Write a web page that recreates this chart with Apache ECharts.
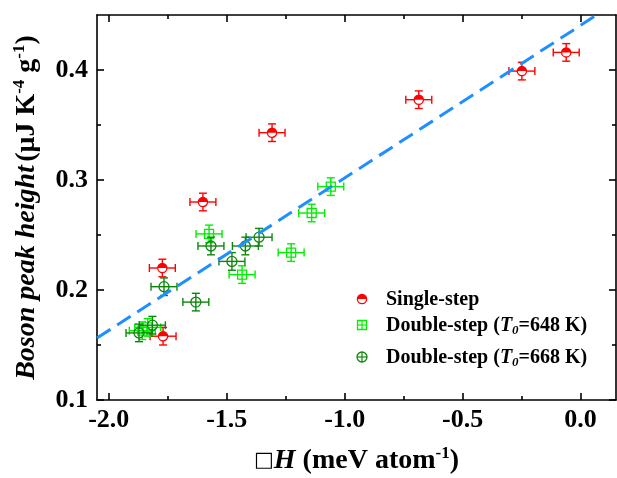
<!DOCTYPE html>
<html>
<head>
<meta charset="utf-8">
<script src="https://cdn.jsdelivr.net/npm/echarts@6/dist/echarts.min.js"></script>
<style>
  html, body { margin: 0; padding: 0; background: #fff; }
  #chart { width: 617px; height: 478px; }
</style>
</head>
<body>
<div id="chart"></div>
<script>
// Single-step annealed samples: enthalpy change vs boson peak height
const singleDH    = [-1.770, -1.773, -1.601, -1.308, -0.686, -0.249, -0.061];
const singleBP    = [0.158, 0.220, 0.280, 0.343, 0.373, 0.399, 0.416];
const singleDHErr = [0.055, 0.055, 0.055, 0.055, 0.055, 0.055, 0.055];
const singleBPErr = [0.008, 0.008, 0.008, 0.008, 0.008, 0.008, 0.008];

// Double-step, T0 = 648 K
const ds648DH    = [-1.858, -1.835, -1.575, -1.435, -1.227, -1.140, -1.059];
const ds648BP    = [0.163, 0.166, 0.251, 0.214, 0.234, 0.270, 0.294];
const ds648DHErr = [0.055, 0.055, 0.055, 0.055, 0.055, 0.055, 0.055];
const ds648BPErr = [0.008, 0.008, 0.008, 0.008, 0.008, 0.008, 0.008];

// Double-step, T0 = 668 K
const ds668DH    = [-1.872, -1.815, -1.766, -1.631, -1.567, -1.478, -1.421, -1.363];
const ds668BP    = [0.161, 0.168, 0.203, 0.189, 0.240, 0.226, 0.240, 0.248];
const ds668DHErr = [0.055, 0.055, 0.055, 0.055, 0.055, 0.055, 0.055, 0.055];
const ds668BPErr = [0.008, 0.008, 0.008, 0.008, 0.008, 0.008, 0.008, 0.008];

// Linear fit drawn as a dashed guide (two end points)
const fitDH = [-2.05, 0.15];
const fitBP = [0.1563, 0.4614];

// Axis ranges and tick positions
const X_MIN = -2.05, X_MAX = 0.15;
const Y_MIN = 0.1, Y_MAX = 0.45;
const xMajorTicks = [-2.0, -1.5, -1.0, -0.5, 0.0];
const xMinorTicks = [-1.75, -1.25, -0.75, -0.25];
const yMajorTicks = [0.1, 0.2, 0.3, 0.4];
const yMinorTicks = [0.15, 0.25, 0.35];

const RED = '#ff0000';
const LIGHT_GREEN = '#00ee00';
const DARK_GREEN = '#0c870c';
const FIT_BLUE = '#1f8fff';
const FONT = '"Liberation Serif", "Times New Roman", serif';

function zipRows(xs, ys, exs, eys) {
  return xs.map((x, i) => [x, ys[i], exs[i], eys[i]]);
}

function markerShapes(kind, cx, cy, color) {
  if (kind === 'half') {
    return [
      { type: 'circle', shape: { cx, cy, r: 4.6 }, style: { fill: '#fff', stroke: color, lineWidth: 1.3 } },
      { type: 'sector', shape: { cx, cy, r0: 0, r: 4.6, startAngle: Math.PI, endAngle: 2 * Math.PI }, style: { fill: color } }
    ];
  }
  if (kind === 'square') {
    return [{ type: 'rect', shape: { x: cx - 4.5, y: cy - 4.5, width: 9, height: 9 }, style: { fill: null, stroke: color, lineWidth: 1.3 } }];
  }
  return [{ type: 'circle', shape: { cx, cy, r: 5 }, style: { fill: null, stroke: color, lineWidth: 1.3 } }];
}

function errorBarRenderer(kind, color) {
  return function (params, api) {
    const x = api.value(0), y = api.value(1), ex = api.value(2), ey = api.value(3);
    const c = api.coord([x, y]);
    const l = api.coord([x - ex, y]);
    const r = api.coord([x + ex, y]);
    const t = api.coord([x, y + ey]);
    const b = api.coord([x, y - ey]);
    const cap = 4;
    const st = { stroke: color, lineWidth: 1.4, fill: null };
    const segs = [
      [l[0], c[1], r[0], c[1]],
      [l[0], c[1] - cap, l[0], c[1] + cap],
      [r[0], c[1] - cap, r[0], c[1] + cap],
      [c[0], t[1], c[0], b[1]],
      [c[0] - cap, t[1], c[0] + cap, t[1]],
      [c[0] - cap, b[1], c[0] + cap, b[1]]
    ];
    const children = segs.map(s => ({
      type: 'line',
      shape: { x1: s[0], y1: s[1], x2: s[2], y2: s[3] },
      style: st
    }));
    return { type: 'group', children: children.concat(markerShapes(kind, c[0], c[1], color)) };
  };
}

const axisLineStyle = { color: '#000', width: 1.6 };
const labelStyle = { color: '#000', fontFamily: FONT, fontWeight: 'bold', fontSize: 26 };

function xAxisDef(position, ticks, len, withLabels, withLine) {
  return {
    type: 'value', gridIndex: 0, position, min: X_MIN, max: X_MAX,
    axisLine: { show: withLine, onZero: false, lineStyle: axisLineStyle },
    axisTick: { show: true, inside: true, length: len, customValues: ticks, lineStyle: axisLineStyle },
    axisLabel: Object.assign({ show: withLabels, customValues: ticks, margin: 7, formatter: v => v.toFixed(1) }, labelStyle),
    splitLine: { show: false }
  };
}
function yAxisDef(position, ticks, len, withLabels, withLine) {
  return {
    type: 'value', gridIndex: 0, position, min: Y_MIN, max: Y_MAX,
    axisLine: { show: withLine, onZero: false, lineStyle: axisLineStyle },
    axisTick: { show: true, inside: true, length: len, customValues: ticks, lineStyle: axisLineStyle },
    axisLabel: Object.assign({ show: withLabels, customValues: ticks, margin: 9, formatter: v => v.toFixed(1) }, labelStyle),
    splitLine: { show: false }
  };
}

const titleRich = {
  box: { fontFamily: '"DejaVu Sans", sans-serif', fontSize: 21, color: '#000' },
  it: { fontFamily: FONT, fontWeight: 'bold', fontStyle: 'italic', fontSize: 28, color: '#000' },
  b: { fontFamily: FONT, fontWeight: 'bold', fontSize: 28, color: '#000' },
  sup: { fontFamily: FONT, fontWeight: 'bold', fontSize: 17, color: '#000', padding: [0, 0, 15, 0] }
};

const xMain = xAxisDef('bottom', xMajorTicks, 7, true, true);
xMain.name = '{box|\u25A1}{it|H}{b| (meV atom}{sup|-1}{b|)}';
xMain.nameLocation = 'middle';
xMain.nameGap = 45;
xMain.nameTextStyle = { color: '#000', rich: titleRich };

const yMain = yAxisDef('left', yMajorTicks, 7, true, true);
yMain.name = '{it|Boson peak height} {b|(\u03BCJ K}{sup|-4}{b| g}{sup|-1}{b|)}';
yMain.nameLocation = 'middle';
yMain.nameRotate = 90;
yMain.nameGap = 54;
yMain.nameTextStyle = { color: '#000', rich: titleRich };

const legendTextRich = {
  b: { fontFamily: FONT, fontWeight: 'bold', fontSize: 20, color: '#000' },
  it: { fontFamily: FONT, fontWeight: 'bold', fontStyle: 'italic', fontSize: 20, color: '#000' },
  sub: { fontFamily: FONT, fontWeight: 'bold', fontStyle: 'italic', fontSize: 13, color: '#000', padding: [9, 0, 0, 0] }
};
const legendRows = [
  { kind: 'half', color: RED, y: 299, text: '{b|Single-step}' },
  { kind: 'square', color: LIGHT_GREEN, y: 325, text: '{b|Double-step (}{it|T}{sub|0}{b|=648 K)}' },
  { kind: 'circle', color: DARK_GREEN, y: 357, text: '{b|Double-step (}{it|T}{sub|0}{b|=668 K)}' }
];
const legendGraphics = [];
legendRows.forEach(row => {
  const icon = markerShapes(row.kind, 362, row.y, row.color);
  if (row.kind !== 'half') {
    icon.push({ type: 'line', shape: { x1: 357, y1: row.y, x2: 367, y2: row.y }, style: { stroke: row.color, lineWidth: 1.2 } });
    icon.push({ type: 'line', shape: { x1: 362, y1: row.y - 5, x2: 362, y2: row.y + 5 }, style: { stroke: row.color, lineWidth: 1.2 } });
  }
  legendGraphics.push({ type: 'group', children: icon });
  legendGraphics.push({
    type: 'text', x: 386, y: row.y + 1,
    style: { text: row.text, rich: legendTextRich, verticalAlign: 'middle', align: 'left' }
  });
});

const chart = echarts.init(document.getElementById('chart'), null, { renderer: 'canvas' });
chart.setOption({
  animation: false,
  backgroundColor: '#fff',
  grid: { left: 97, right: 1, top: 15, bottom: 78, containLabel: false, outerBoundsMode: 'none' },
  xAxis: [
    xMain,
    xAxisDef('bottom', xMinorTicks, 4, false, false),
    xAxisDef('top', xMajorTicks, 7, false, true),
    xAxisDef('top', xMinorTicks, 4, false, false)
  ],
  yAxis: [
    yMain,
    yAxisDef('left', yMinorTicks, 4, false, false),
    yAxisDef('right', yMajorTicks, 7, false, true),
    yAxisDef('right', yMinorTicks, 4, false, false)
  ],
  graphic: legendGraphics,
  series: [
    {
      type: 'custom', name: 'Single-step', xAxisIndex: 0, yAxisIndex: 0,
      renderItem: errorBarRenderer('half', RED),
      encode: { x: 0, y: 1 },
      data: zipRows(singleDH, singleBP, singleDHErr, singleBPErr), z: 3
    },
    {
      type: 'custom', name: 'Double-step 648 K', xAxisIndex: 0, yAxisIndex: 0,
      renderItem: errorBarRenderer('square', LIGHT_GREEN),
      encode: { x: 0, y: 1 },
      data: zipRows(ds648DH, ds648BP, ds648DHErr, ds648BPErr), z: 3
    },
    {
      type: 'custom', name: 'Double-step 668 K', xAxisIndex: 0, yAxisIndex: 0,
      renderItem: errorBarRenderer('circle', DARK_GREEN),
      encode: { x: 0, y: 1 },
      data: zipRows(ds668DH, ds668BP, ds668DHErr, ds668BPErr), z: 3
    },
    {
      type: 'line', name: 'Fit', xAxisIndex: 0, yAxisIndex: 0,
      data: fitDH.map((x, i) => [x, fitBP[i]]),
      symbol: 'none', clip: true, silent: true, z: 4,
      lineStyle: { color: FIT_BLUE, width: 3, type: [16, 8] }
    }
  ]
});
</script>
</body>
</html>
